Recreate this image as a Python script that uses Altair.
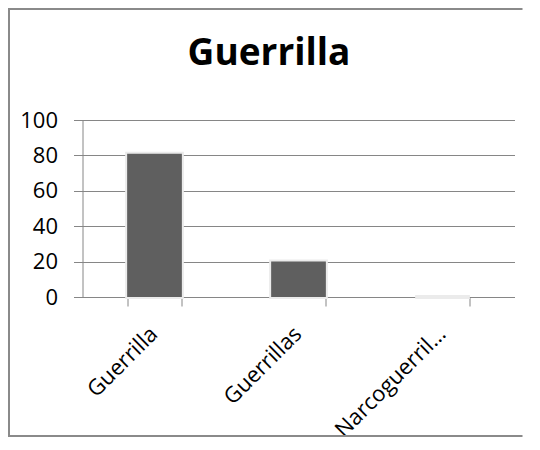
import altair as alt
import pandas as pd

categories = ["Guerrilla", "Guerrillas", "Narcoguerrilla"]
values = [81, 20, 0]
title_text = "Guerrilla"
y_ticks = [0, 20, 40, 60, 80, 100]

df = pd.DataFrame({"cat": categories, "val": values})

PW, PH = 432, 177
PAD = {"left": 74.5, "top": 112, "right": 17.5, "bottom": 140}
GRAY = "#868686"
FONT = "Open Sans"

xenc = alt.X("cat:N", sort=categories, title=None,
             scale=alt.Scale(paddingInner=0.62, paddingOuter=0.31),
             axis=alt.Axis(labelAngle=-45, labelFontSize=22, labelFont=FONT,
                           labelColor="#000000", labelPadding=17, labelLimit=200,
                           labelExpr="length(datum.label) > 12 ? slice(datum.label, 0, 12) + '…' : datum.label",
                           tickBand="extent", tickSize=9, tickColor=GRAY,
                           domainColor=GRAY, grid=False, labelOffset=-8))
yenc = alt.Y("val:Q", title=None,
             scale=alt.Scale(domain=[0, 100], nice=False),
             axis=alt.Axis(values=y_ticks, labelFontSize=22, labelFont=FONT,
                           labelColor="#000000", labelPadding=16, tickSize=9,
                           tickColor=GRAY, domainColor=GRAY, gridColor=GRAY,
                           grid=True))

base = alt.Chart(df)

shadow = base.mark_bar(color="#f4f4f4", stroke="#ebebeb", strokeWidth=4).encode(x=xenc, y=yenc)
bars = base.mark_bar(color="#5f5f5f").encode(x=xenc, y=yenc)

title = alt.Chart(pd.DataFrame({"t": [title_text]})).mark_text(
    font=FONT, fontSize=37, fontWeight="bold", color="#000000",
    align="center", baseline="alphabetic"
).encode(x=alt.value(186.5), y=alt.value(-55), text="t:N")

fdf = pd.DataFrame({"f": [0]})
FR = dict(color="#8a8a8a", strokeWidth=2)
frame_top = alt.Chart(fdf).mark_rule(**FR).encode(
    x=alt.value(-74.5), x2=alt.value(440), y=alt.value(-111))
frame_left = alt.Chart(fdf).mark_rule(**FR).encode(
    x=alt.value(-73.5), y=alt.value(-112), y2=alt.value(317))
frame_bottom = alt.Chart(fdf).mark_rule(**FR).encode(
    x=alt.value(-74.5), x2=alt.value(440), y=alt.value(316))

chart = alt.layer(frame_top, frame_left, frame_bottom, shadow, bars, title).properties(
    width=PW, height=PH,
    autosize=alt.AutoSizeParams(type="none"),
    padding=PAD,
).configure(background="#ffffff", view=alt.ViewConfig(stroke=None))

chart.save("out.html", embed_options={"renderer": "svg", "actions": False})
